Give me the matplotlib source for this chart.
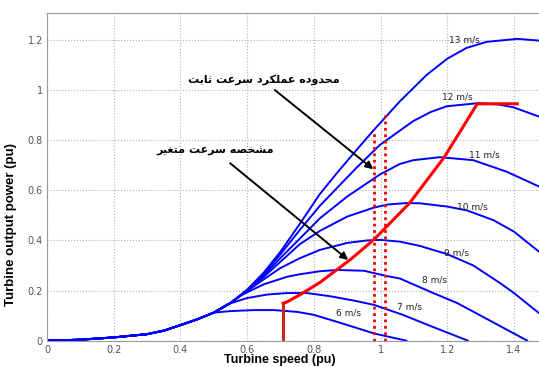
import matplotlib.pyplot as plt

# common low-speed trunk shared by all curves
trunk_x = [0.0, 0.1, 0.2, 0.3, 0.35, 0.4, 0.45, 0.5]
trunk_y = [0.0, 0.004, 0.013, 0.026, 0.04, 0.062, 0.085, 0.112]

# turbine power curves, per wind speed
wind_labels = ["6 m/s", "7 m/s", "8 m/s", "9 m/s", "10 m/s", "11 m/s", "12 m/s", "13 m/s"]
curve_x = [
    [0.55, 0.62, 0.68, 0.75, 0.8, 0.87, 0.93, 0.98, 1.03, 1.078],
    [0.54, 0.6, 0.66, 0.72, 0.78, 0.85, 0.92, 0.98, 1.067, 1.166, 1.262],
    [0.55, 0.58, 0.65, 0.72, 0.758, 0.818, 0.87, 0.95, 1.018, 1.058, 1.158, 1.23, 1.3, 1.37, 1.44],
    [0.55, 0.6, 0.65, 0.7, 0.758, 0.818, 0.9, 0.96, 1.0, 1.058, 1.118, 1.2, 1.278, 1.358, 1.4, 1.475],
    [0.55, 0.6, 0.65, 0.7, 0.758, 0.818, 0.9, 0.978, 1.02, 1.077, 1.118, 1.2, 1.258, 1.338, 1.4, 1.475],
    [0.55, 0.6, 0.65, 0.7, 0.76, 0.818, 0.9, 0.998, 1.058, 1.098, 1.178, 1.278, 1.378, 1.475],
    [0.55, 0.6, 0.65, 0.7, 0.76, 0.818, 0.87, 0.928, 0.998, 1.058, 1.098, 1.15, 1.198, 1.288, 1.35, 1.398, 1.475],
    [0.55, 0.6, 0.65, 0.7, 0.76, 0.818, 0.87, 0.928, 0.981, 1.058, 1.1, 1.138, 1.2, 1.258, 1.318, 1.41, 1.475],
]
curve_y = [
    [0.118, 0.122, 0.122, 0.115, 0.103, 0.075, 0.05, 0.029, 0.014, 0.0],
    [0.145, 0.17, 0.184, 0.19, 0.19, 0.177, 0.16, 0.143, 0.103, 0.05, 0.0],
    [0.15, 0.18, 0.225, 0.255, 0.265, 0.277, 0.282, 0.279, 0.258, 0.248, 0.19, 0.15, 0.1, 0.05, 0.0],
    [0.15, 0.198, 0.245, 0.29, 0.329, 0.362, 0.39, 0.4, 0.402, 0.395, 0.378, 0.345, 0.3, 0.23, 0.19, 0.11],
    [0.15, 0.2, 0.255, 0.315, 0.385, 0.438, 0.495, 0.53, 0.543, 0.549, 0.548, 0.535, 0.52, 0.481, 0.435, 0.355],
    [0.15, 0.201, 0.262, 0.33, 0.41, 0.488, 0.575, 0.663, 0.705, 0.72, 0.732, 0.72, 0.674, 0.615],
    [0.15, 0.202, 0.268, 0.345, 0.445, 0.538, 0.61, 0.69, 0.781, 0.838, 0.876, 0.912, 0.935, 0.947, 0.943, 0.931, 0.894],
    [0.15, 0.203, 0.272, 0.355, 0.47, 0.585, 0.67, 0.761, 0.842, 0.955, 1.01, 1.06, 1.125, 1.168, 1.192, 1.204, 1.197],
]
label_x = [0.903, 1.088, 1.163, 1.228, 1.275, 1.31, 1.23, 1.25]
label_y = [0.109, 0.136, 0.242, 0.349, 0.535, 0.741, 0.971, 1.2]

# variable-speed characteristic (red)
red_x = [0.708, 0.708, 0.72, 0.758, 0.818, 0.908, 0.98, 1.087, 1.19, 1.29, 1.41]
red_y = [0.0, 0.149, 0.155, 0.183, 0.232, 0.322, 0.403, 0.549, 0.73, 0.945, 0.945]

# constant-speed operating band (dotted)
band_x = [0.981, 1.013]
band_top = [0.842, 0.9]

note_fixed = "محدوده عملکرد سرعت ثابت"
note_var = "مشخصه سرعت متغیر"

# --- minimal Persian shaping (matplotlib does no Arabic joining) ---
FORMS = {
    "ا": ("\ufe8d", "\ufe8e", None, None),
    "ب": ("\ufe8f", "\ufe90", "\ufe91", "\ufe92"),
    "ت": ("\ufe95", "\ufe96", "\ufe97", "\ufe98"),
    "ث": ("\ufe99", "\ufe9a", "\ufe9b", "\ufe9c"),
    "ح": ("\ufea1", "\ufea2", "\ufea3", "\ufea4"),
    "خ": ("\ufea5", "\ufea6", "\ufea7", "\ufea8"),
    "د": ("\ufea9", "\ufeaa", None, None),
    "ر": ("\ufead", "\ufeae", None, None),
    "س": ("\ufeb1", "\ufeb2", "\ufeb3", "\ufeb4"),
    "ش": ("\ufeb5", "\ufeb6", "\ufeb7", "\ufeb8"),
    "ص": ("\ufeb9", "\ufeba", "\ufebb", "\ufebc"),
    "ع": ("\ufec9", "\ufeca", "\ufecb", "\ufecc"),
    "غ": ("\ufecd", "\ufece", "\ufecf", "\ufed0"),
    "ل": ("\ufedd", "\ufede", "\ufedf", "\ufee0"),
    "م": ("\ufee1", "\ufee2", "\ufee3", "\ufee4"),
    "ه": ("\ufee9", "\ufeea", "\ufeeb", "\ufeec"),
    "و": ("\ufeed", "\ufeee", None, None),
    "ک": ("\ufb8e", "\ufb8f", "\ufb90", "\ufb91"),
    "ی": ("\ufbfc", "\ufbfd", "\ufbfe", "\ufbff"),
}


def shape(text):
    out = []
    for i, ch in enumerate(text):
        if ch not in FORMS:
            out.append(ch)
            continue
        prev = text[i - 1] if i > 0 else " "
        nxt = text[i + 1] if i + 1 < len(text) else " "
        join_prev = prev in FORMS and FORMS[prev][2] is not None
        join_next = nxt in FORMS and FORMS[ch][2] is not None
        iso, fin, ini, med = FORMS[ch]
        if join_prev and join_next:
            out.append(med)
        elif join_prev:
            out.append(fin)
        elif join_next:
            out.append(ini)
        else:
            out.append(iso)
    return "".join(reversed(out))


fig = plt.figure(figsize=(5.39, 3.67), dpi=100)
ax = fig.add_axes([0.0872, 0.0717, 0.9128, 0.8921])

for xs, ys in zip(curve_x, curve_y):
    ax.plot(trunk_x + xs, trunk_y + ys, color="#0000ff", lw=1.4, solid_capstyle="round")

for lab, lx, ly in zip(wind_labels, label_x, label_y):
    ax.text(lx, ly, lab, fontsize=6.5, color="#222222", ha="center", va="center",
            family="DejaVu Sans")

for bx, bt in zip(band_x, band_top):
    ax.plot([bx, bx], [0, bt], color="#ff0000", lw=2.0, linestyle=(0, (1, 1.3)))

ax.plot(red_x[:2], red_y[:2], color="#c8281e", lw=2.2)
ax.plot(red_x[1:], red_y[1:], color="#ff0000", lw=2.2)

arrow = dict(arrowstyle="-|>", color="black", lw=1.4, mutation_scale=11, shrinkA=0, shrinkB=0)
ax.annotate("", xy=(0.978, 0.684), xytext=(0.683, 1.0), arrowprops=arrow)
ax.annotate("", xy=(0.903, 0.322), xytext=(0.549, 0.708), arrowprops=arrow)
ax.text(0.65, 1.04, shape(note_fixed), fontsize=8, fontweight="bold",
        ha="center", va="center", family="DejaVu Sans")
ax.text(0.505, 0.755, shape(note_var), fontsize=8, fontweight="bold",
        ha="center", va="center", family="DejaVu Sans")

ax.set_xlim(0, 1.475)
ax.set_ylim(0, 1.306)
ax.set_xticks([0, 0.2, 0.4, 0.6, 0.8, 1.0, 1.2, 1.4])
ax.set_xticklabels(["0", "0.2", "0.4", "0.6", "0.8", "1", "1.2", "1.4"])
ax.set_yticks([0, 0.2, 0.4, 0.6, 0.8, 1.0, 1.2])
ax.set_yticklabels(["0", "0.2", "0.4", "0.6", "0.8", "1", "1.2"])
ax.tick_params(length=0, labelsize=7, labelcolor="#555555", pad=3)
ax.grid(True, color="#b0b0b0", linestyle=":", lw=0.8)
for side in ["left", "bottom", "top"]:
    ax.spines[side].set_color("#9a9a9a")
    ax.spines[side].set_linewidth(0.8)
ax.spines["right"].set_visible(False)

ax.set_xlabel("Turbine speed (pu)", fontsize=9, fontweight="bold", family="Liberation Sans")
ax.xaxis.set_label_coords(0.473, -0.04)
ax.set_ylabel("Turbine output power (pu)", fontsize=9.5, fontweight="bold", family="Liberation Sans")
ax.yaxis.set_label_coords(-0.06, 0.356)

fig.savefig("out.png", dpi=100)
